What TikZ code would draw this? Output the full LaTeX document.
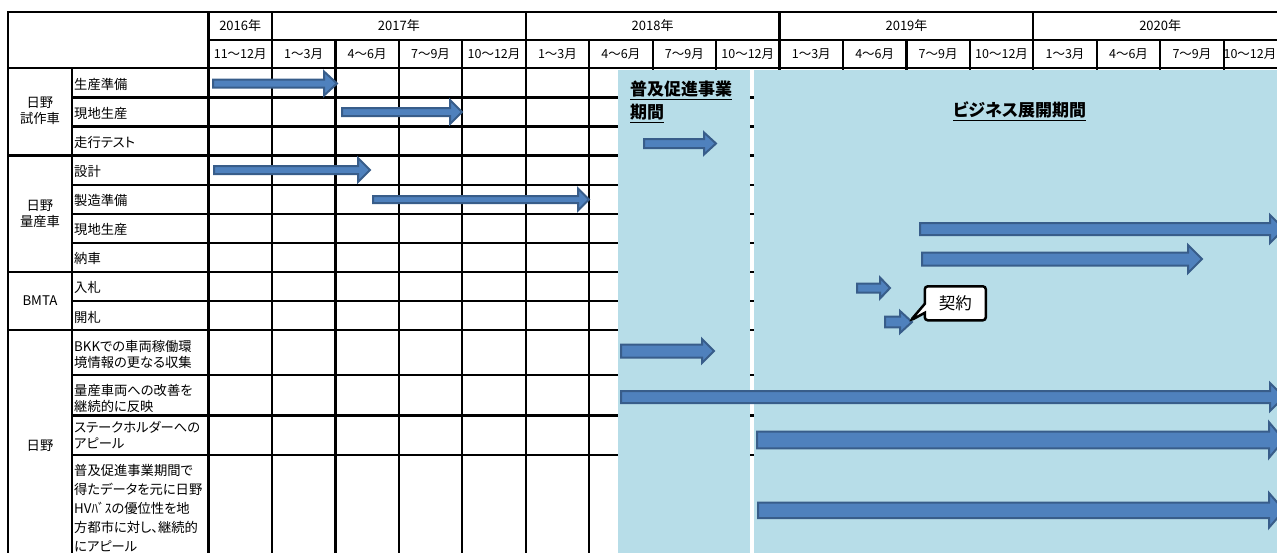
\documentclass[tikz,border=0pt]{standalone}
\usepackage{fontspec}
\setmainfont{Noto Sans CJK JP}[RawFeature=+palt]
\usepackage{xcolor}
\usetikzlibrary{shapes.callouts}

\definecolor{phaseblue}{HTML}{B7DDE8}
\definecolor{barfill}{HTML}{4F81BD}
\definecolor{barline}{HTML}{385D8A}

% block arrow: x start, x tip, y, half shaft, half head, head length
\newcommand{\ganttbar}[6]{%
  \draw[gbar] (#1,#3-#4) -- (#2-#6,#3-#4) -- (#2-#6,#3-#5) -- (#2,#3)
    -- (#2-#6,#3+#5) -- (#2-#6,#3+#4) -- (#1,#3+#4) -- cycle;}
\newcommand{\ulin}[1]{\vtop{\hbox{#1}\kern1.6pt\hrule height 1.6pt}}

\begin{document}
\begin{tikzpicture}[x=1pt, y=-1pt,
  tline/.style={line width=2.2pt, line cap=rect},
  gbar/.style={fill=barfill, draw=barline, line width=2pt},
  hlabel/.style={inner sep=0pt, font=\fontsize{12.5}{15}\selectfont},
  tlabel/.style={anchor=west, inner sep=0pt, font=\fontsize{13.3}{16}\selectfont},
  nlabel/.style={anchor=west, inner sep=0pt, align=left, font=\fontsize{13.3}{16.5}\selectfont},
  glabel/.style={inner sep=0pt, align=center, font=\fontsize{13.3}{16}\selectfont},
  plabel/.style={inner sep=0pt, align=left, font=\fontsize{17}{23}\selectfont\bfseries},
  balloon/.style={rectangle callout, draw=black, fill=white, line width=2.5pt,
    rounded corners=3pt, minimum width=61pt, minimum height=34pt, inner sep=0pt,
    callout pointer width=9pt, font=\fontsize{16.5}{18}\selectfont}]
\useasboundingbox (0,0) rectangle (1277,552);
\clip (0,0) rectangle (1277,552);

% table rules
\draw[tline] (8,11.7) -- (1290,11.7);
\draw[tline] (208.5,40) -- (1290,40);
\draw[tline] (8,68.3) -- (1290,68.3);
\foreach \yy in {155.5,271.8,330}
  \draw[tline] (8,\yy) -- (1290,\yy);
\foreach \yy in {97.4,126.4,184.6,213.7,242.7,300.9,375,415.5,455}
  \draw[tline] (71.7,\yy) -- (1290,\yy);
\draw[tline] (8,11.7) -- (8,560);
\draw[tline] (71.7,68.3) -- (71.7,560);
\foreach \k in {1,5,9,13}
  \draw[tline] ({208.5+63.45*\k},11.7) -- ({208.5+63.45*\k},40);
\draw[tline] (208.5,11.7) -- (208.5,560);
\foreach \k in {1,...,17}
  \draw[tline] ({208.5+63.45*\k},40) -- ({208.5+63.45*\k},560);

% project periods
\fill[phaseblue] (618.3,69.5) rectangle (750.3,560);
\fill[phaseblue] (754.3,69.5) rectangle (1290,560);

% header
\foreach \yr/\xx in {2016/240.2, 2017/398.9, 2018/652.6, 2019/906.5, 2020/1160.2}
  \node[hlabel, font=\fontsize{13}{15}\selectfont] (yr\yr) at (\xx,26) {{\yr}年};
\foreach \m [count=\k from 0] in {11～12月,1～3月,4～6月,7～9月,10～12月,1～3月,4～6月,7～9月,10～12月,1～3月,4～6月,7～9月,10～12月,1～3月,4～6月,7～9月}
  \node[hlabel] (mon\k) at ({208.5+63.45*\k+31.7},54.5) {\m};
\node[hlabel, anchor=east] (mon16) at (1276.5,54.5) {10～12月};

% groups and tasks
\node[glabel] (grp1) at (40,110.5) {日野\\試作車};
\node[glabel] (grp2) at (40,213.5) {日野\\量産車};
\node[glabel] (grp3) at (40,301) {BMTA};
\node[glabel] (grp4) at (40,446) {日野};
\foreach \lab/\yy [count=\i] in {生産準備/84.4, 現地生産/113.4, 走行テスト/142.5, 設計/171.5, 製造準備/200.6, 現地生産/229.7, 納車/258.8, 入札/287.9, 開札/317}
  \node[tlabel] (task\i) at (74,\yy) {\lab};
\node[nlabel] (task10) at (74,354.7) {BKKでの車両稼働環\\境情報の更なる収集};
\node[nlabel] (task11) at (74,398.5) {量産車両への改善を\\継続的に反映};
\node[nlabel] (task12) at (74,435.3) {ステークホルダーへの\\アピール};
\node[nlabel, font=\fontsize{13.3}{19}\selectfont] (task13) at (74,507.8)
  {普及促進事業期間で\\得たデータを元に日野\\HVﾊﾞｽの優位性を地\\方都市に対し、継続的\\にアピール};

% schedule bars
\ganttbar{213}{337}{83.5}{4}{12}{13}
\ganttbar{342}{462}{112}{4}{12}{12}
\ganttbar{644}{716}{143.5}{4.5}{11}{12}
\ganttbar{214}{370}{170}{4}{12}{12}
\ganttbar{373}{589}{199.5}{3.5}{11}{11}
\ganttbar{920}{1284}{229}{6}{14}{14}
\ganttbar{922}{1202}{259}{6.5}{14}{14}
\ganttbar{857}{890}{288}{4.5}{10.5}{10}
\ganttbar{885}{912}{322}{5.3}{11}{12}
\ganttbar{621}{714}{351}{6.5}{12}{12}
\ganttbar{621}{1284}{397}{6}{14}{14}
\ganttbar{757}{1284}{440}{8.3}{17.8}{15}
\ganttbar{758}{1284}{510.3}{7.7}{17.3}{15}

% period titles
\node[plabel, anchor=north west] (promo) at (630,80.5) {\ulin{普及促進事業}\\\ulin{期間}};
\node[plabel] (business) at (1019.5,111.5) {\ulin{ビジネス展開期間}};
\node[balloon, callout absolute pointer={(910.5,320.5)}] (contract) at (955.3,303.3) {契約};
\end{tikzpicture}
\end{document}
